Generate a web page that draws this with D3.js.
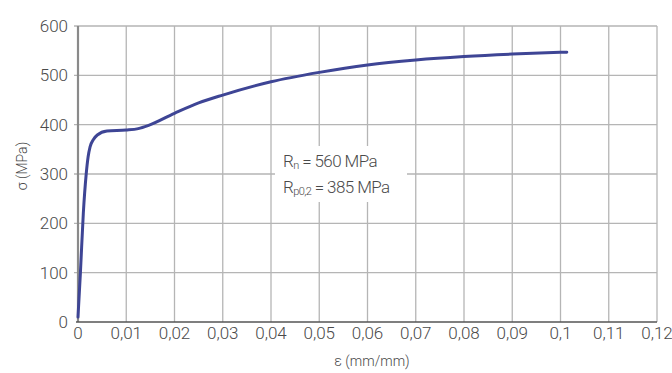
<!DOCTYPE html>
<html><head><meta charset="utf-8">
<script src="https://cdn.jsdelivr.net/npm/d3@7"></script>
<style>
body{margin:0;background:#fff;}
text{font-family:Roboto,"Liberation Sans",sans-serif;fill:#4a4a4a;font-weight:300;}
</style></head><body>
<svg id="c" width="672" height="373"></svg>
<script>
const strain = [0,0.0005,0.0011,0.0017,0.0021,0.0025,0.0032,0.0040,0.0060,0.0100,0.0125,0.0145,0.0200,0.0250,0.0300,0.0400,0.0500,0.0600,0.0700,0.0800,0.0900,0.1013];
const stress = [10,100,220,300,335,355,370,379,387,389,392,398,423,444,460,487,506,521,531,538,543,547];
const xTicks = [0,0.01,0.02,0.03,0.04,0.05,0.06,0.07,0.08,0.09,0.1,0.11,0.12];
const xTickLabels = ["0","0,01","0,02","0,03","0,04","0,05","0,06","0,07","0,08","0,09","0,1","0,11","0,12"];
const yTicks = [0,100,200,300,400,500,600];
const notes = [["R","n"," = 560 MPa"],["R","p0,2"," = 385 MPa"]];

const svg = d3.select("#c");
const x = d3.scaleLinear().domain([0,0.12]).range([78,657]);
const y = d3.scaleLinear().domain([0,600]).range([322,26]);

// grid
svg.append("g").selectAll("line").data(xTicks.slice(1)).join("line")
  .attr("x1",d=>x(d)).attr("x2",d=>x(d)).attr("y1",y(600)).attr("y2",y(0))
  .attr("stroke","#b5b5b5").attr("stroke-width",1.3);
svg.append("g").selectAll("line").data(yTicks.slice(1)).join("line")
  .attr("x1",x(0)-4).attr("x2",x(0.12)).attr("y1",d=>y(d)).attr("y2",d=>y(d))
  .attr("stroke","#b5b5b5").attr("stroke-width",1.3);

// axes lines
svg.append("line").attr("x1",x(0)).attr("x2",x(0)).attr("y1",y(600)).attr("y2",y(0))
  .attr("stroke","#8a8a8a").attr("stroke-width",2.2);
svg.append("line").attr("x1",x(0)-2).attr("x2",x(0.12)).attr("y1",y(0)).attr("y2",y(0))
  .attr("stroke","#555").attr("stroke-width",1.6);

// tick labels
svg.append("g").selectAll("text").data(yTicks).join("text")
  .attr("x",68).attr("y",d=>y(d)+6).attr("text-anchor","end")
  .attr("font-size",17).text(d=>d);
svg.append("g").selectAll("text").data(xTicks).join("text")
  .attr("x",d=>x(d)).attr("y",339).attr("text-anchor","middle")
  .attr("font-size",17).text((d,i)=>xTickLabels[i]);

// axis titles
svg.append("text").attr("x",372).attr("y",366).attr("text-anchor","middle")
  .attr("font-size",14).text("ε (mm/mm)");
svg.append("text").attr("transform","translate(27,166) rotate(-90)").attr("text-anchor","middle")
  .attr("font-size",14).text("σ (MPa)");

// annotation box
svg.append("rect").attr("x",275).attr("y",146).attr("width",132).attr("height",56).attr("fill","#fff");
notes.forEach((n,i)=>{
  const t = svg.append("text").attr("x",283).attr("y",167+i*25.5).attr("font-size",17).attr("letter-spacing","-0.6");
  t.append("tspan").text(n[0]);
  t.append("tspan").attr("font-size",11).attr("dy",2).text(n[1]);
  t.append("tspan").attr("dy",-2).text(n[2]);
});

// curve
const data = strain.map((e,i)=>[e,stress[i]]);
svg.append("path").datum(data)
  .attr("d",d3.line().x(d=>x(d[0])).y(d=>y(d[1])).curve(d3.curveMonotoneX))
  .attr("fill","none").attr("stroke","#3e4595").attr("stroke-width",3).attr("stroke-linecap","round");
</script>
</body></html>
